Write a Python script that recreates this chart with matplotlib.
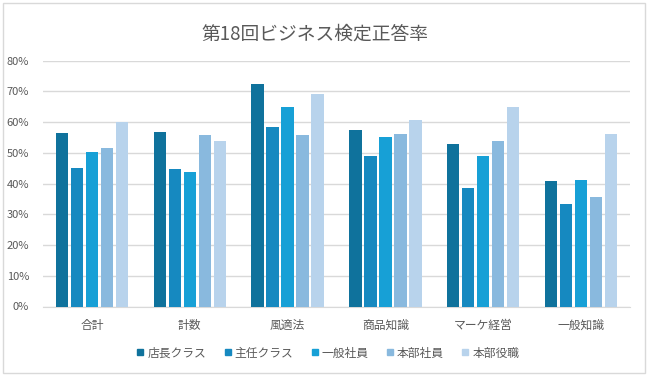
import matplotlib
matplotlib.use("Agg")
import matplotlib.pyplot as plt
from matplotlib.patches import Rectangle
from matplotlib.lines import Line2D
from matplotlib.ticker import PercentFormatter
import numpy as np

plt.rcParams['font.family'] = ['Noto Sans CJK JP', 'DejaVu Sans']

title = "第18回ビジネス検定正答率"
categories = ["合計", "計数", "風適法", "商品知識", "マーケ経営", "一般知識"]
series_names = ["店長クラス", "主任クラス", "一般社員", "本部社員", "本部役職"]
tencho = [56.6, 56.9, 72.5, 57.5, 52.9, 40.9]
shunin = [45.1, 44.6, 58.5, 49.1, 38.7, 33.2]
ippan = [50.4, 43.8, 65.0, 55.3, 49.1, 41.3]
honbu = [51.7, 55.9, 55.9, 56.3, 54.0, 35.8]
yakushoku = [60.1, 54.0, 69.3, 60.8, 65.0, 56.2]
series = [tencho, shunin, ippan, honbu, yakushoku]
colors = ["#0f729c", "#1689c0", "#17a0d6", "#89b9de", "#b8d3ec"]

W, H = 649, 378
fig = plt.figure(figsize=(W / 100, H / 100), dpi=100)
fig.patch.set_facecolor("white")
fig.patches.append(Rectangle((3 / W, 5 / H), 642 / W, 370 / H, transform=fig.transFigure,
                             fill=False, edgecolor="#d9d9d9", linewidth=1))

ax = fig.add_axes([43 / W, 1 - 306.5 / H, 587 / W, (306.5 - 60.7) / H])
x = np.arange(len(categories))
bw = 0.126
step = 0.153
for i, (vals, c) in enumerate(zip(series, colors)):
    ax.bar(x + (i - 2) * step, vals, width=bw, color=c, zorder=3)

ax.set_xlim(-0.5, len(categories) - 0.5)
ax.set_ylim(0, 80)
ax.set_yticks(np.arange(0, 81, 10))
ax.yaxis.set_major_formatter(PercentFormatter(decimals=0))
ax.set_xticks(x)
ax.set_xticklabels(categories)
ax.tick_params(axis="both", length=0, labelsize=8, colors="#595959")
ax.tick_params(axis="x", pad=9, labelsize=8.5)
ax.tick_params(axis="y", pad=10)
ax.grid(axis="y", color="#d9d9d9", linewidth=1, zorder=0)
for s in ["top", "right", "left"]:
    ax.spines[s].set_visible(False)
ax.spines["bottom"].set_color("#d9d9d9")

fig.text(315 / W, 1 - 34 / H, title, ha="center", va="center", fontsize=13.5, color="#595959")

handles = [Line2D([], [], marker="s", linestyle="none", markersize=5, color=c) for c in colors]
fig.legend(handles, series_names, loc="center", bbox_to_anchor=(327 / W, 1 - 353 / H),
           ncol=5, frameon=False, fontsize=8.5, handletextpad=0.1, columnspacing=1.3,
           labelcolor="#595959", handlelength=1.0)

fig.savefig("out.png", dpi=100, facecolor="white")
